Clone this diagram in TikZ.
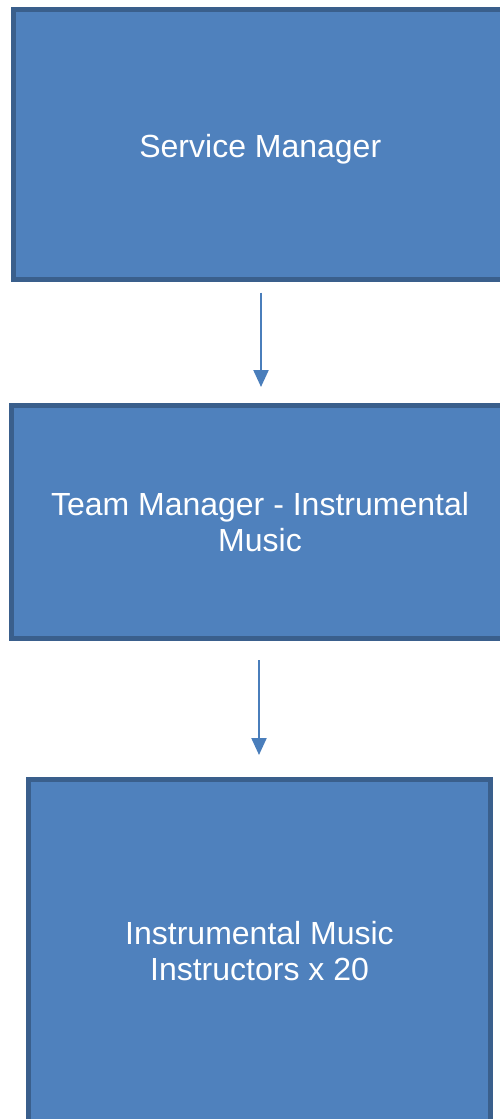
\documentclass[tikz,border=0pt]{standalone}
\usepackage{fontspec}
\setmainfont{Liberation Sans}
\usetikzlibrary{arrows.meta}
\definecolor{boxfill}{HTML}{4F81BD}
\definecolor{boxline}{HTML}{3A5F8C}
\definecolor{arrowcol}{HTML}{4A7EBB}
\begin{document}
\begin{tikzpicture}[x=1pt,y=1pt,
  orgbox/.style={draw=boxline, fill=boxfill, line width=5pt, text=white,
    align=center, inner sep=0pt, font=\fontsize{32}{36}\selectfont},
  link/.style={draw=arrowcol, line width=2.2pt,
    -{Triangle[width=15pt,length=17pt]}}]
  \useasboundingbox (0,0) rectangle (500,-1119);
  \node[orgbox, minimum width=494.3pt, minimum height=270pt, text height=32pt, text depth=7pt] (svc) at (260.3,-144.5) {Service Manager};
  \node[orgbox, minimum width=497pt, minimum height=233pt] (team) at (260,-522) {Team Manager - Instrumental\\Music};
  \node[orgbox, minimum width=462pt, minimum height=343pt] (inst) at (259.5,-951) {Instrumental Music\\Instructors x 20};
  \draw[link, shorten <=10.7pt, shorten >=16pt] ([xshift=0.7pt]svc.south) -- ([xshift=0.7pt]svc.south |- team.north);
  \draw[link, shorten <=19pt, shorten >=22pt] ([xshift=-1pt]team.south) -- ([xshift=-1pt]team.south |- inst.north);
\end{tikzpicture}
\end{document}
